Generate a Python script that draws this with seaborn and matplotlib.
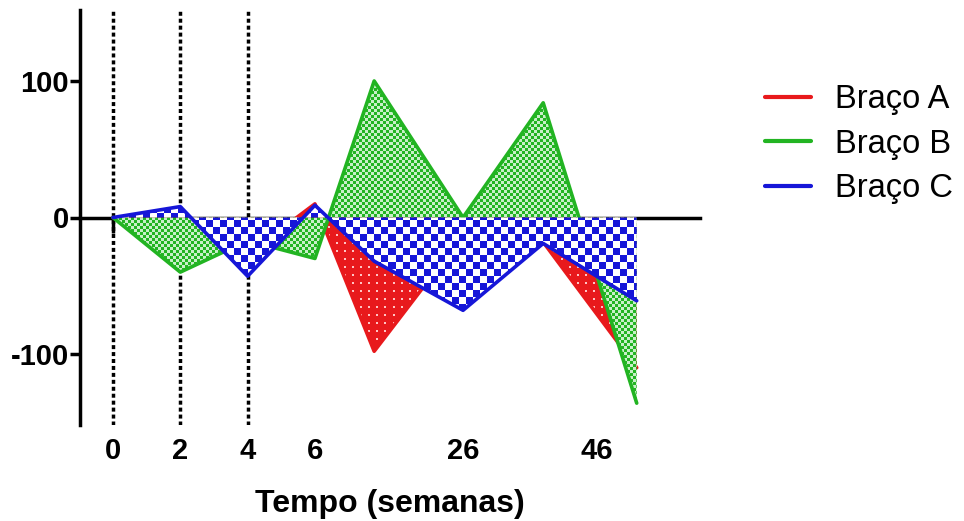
import numpy as np
import pandas as pd
import matplotlib
matplotlib.use("Agg")
import matplotlib.pyplot as plt
from matplotlib.colors import to_rgba
from matplotlib.lines import Line2D
import seaborn as sns

# Dados (semanas de seguimento e variação por braço)
semanas = [0, 2, 4, 6, 14, 26, 38, 52]
braco_a = [0, -20, -27, 10, -98, -13, -18, -110]
braco_b = [0, -40, -17, -30, 100, 0, 84, -136]
braco_c = [0, 8, -43, 9, -32, -68, -19, -61]
nomes = ["Braço A", "Braço B", "Braço C"]
cores = ["#e8191c", "#22b422", "#1616d8"]
xticks = [0, 2, 4, 6, 26, 46]
yticks = [-100, 0, 100]
marcos = [0, 2, 4]  # linhas de referência pontilhadas

sns.set_style("white")
plt.rcParams["font.family"] = ["Liberation Sans", "DejaVu Sans"]
plt.rcParams["text.color"] = "black"
plt.rcParams["axes.labelcolor"] = "black"

# Eixo de tempo segmentado: as primeiras 6 semanas ficam expandidas
W_KNOTS = np.array([0.0, 6.0, 26.0, 52.0])
P_KNOTS = np.array([0.0, 3.0, 5.2, 7.78])


def _piecewise(v, xs, ys):
    v = np.asarray(v, dtype=float)
    out = np.interp(v, xs, ys)
    s0 = (ys[1] - ys[0]) / (xs[1] - xs[0])
    s1 = (ys[-1] - ys[-2]) / (xs[-1] - xs[-2])
    out = np.where(v < xs[0], ys[0] + (v - xs[0]) * s0, out)
    out = np.where(v > xs[-1], ys[-1] + (v - xs[-1]) * s1, out)
    return out


def fwd(v):
    return _piecewise(v, W_KNOTS, P_KNOTS)


def inv(v):
    return _piecewise(v, P_KNOTS, W_KNOTS)


fig = plt.figure(figsize=(9.64, 5.21), dpi=100)
ax = fig.add_axes([80 / 964, 96 / 521, 620 / 964, 415 / 521])
ax.set_xscale("function", functions=(fwd, inv))

# Texturas de preenchimento em pixels da área do gráfico
bbox = ax.get_window_extent()
H, W = int(round(bbox.height)), int(round(bbox.width))
yy, xx = np.mgrid[0:H, 0:W]


def xadrez(tam, cor, claro="white"):
    img = np.empty((H, W, 4))
    img[:] = to_rgba(cor)
    img[((xx // tam + yy // tam) % 2) == 1] = to_rgba(claro)
    return img


def pontos(passo, cor, claro):
    img = np.empty((H, W, 4))
    img[:] = to_rgba(cor)
    mask = ((yy % passo) < 2) & ((xx % passo) < 2)
    img[mask] = to_rgba(claro)
    return img


texturas = [pontos(8, cores[0], "#ffc4c4"),
            xadrez(3, cores[1], "#c8efc8"),
            xadrez(7, cores[2])]

df = pd.DataFrame({"Semana": semanas, "Braço A": braco_a,
                   "Braço B": braco_b, "Braço C": braco_c})

for i, (nome, cor, tex) in enumerate(zip(nomes, cores, texturas)):
    z = 3 + i
    poly = ax.fill_between(df["Semana"], df[nome], 0, facecolor="none",
                           edgecolor="none", zorder=z)
    im = ax.imshow(tex, extent=(0, 1, 0, 1), transform=ax.transAxes,
                   interpolation="nearest", aspect="auto", zorder=z)
    im.set_clip_path(poly.get_paths()[0], transform=ax.transData)
    sns.lineplot(data=df, x="Semana", y=nome, color=cor, lw=2.6,
                 zorder=z + 0.5, ax=ax, legend=False)

for m in marcos:
    ax.axvline(m, color="black", lw=2.5, ls=(0, (1.15, 0.85)), zorder=1)

ax.set_xlim(inv(-0.49), inv(8.72))
ax.set_ylim(-152, 152)

for s in ["top", "right"]:
    ax.spines[s].set_visible(False)
ax.spines["bottom"].set_position(("data", 0))
for s in ["bottom", "left"]:
    ax.spines[s].set_color("black")
    ax.spines[s].set_linewidth(2.5)

ax.set_xticks(xticks)
ax.set_xticklabels([str(t) for t in xticks])
ax.set_yticks(yticks)
ax.set_yticklabels([str(t) for t in yticks])
ax.tick_params(axis="x", bottom=True, direction="out", length=11, width=2.5,
               pad=147, labelsize=21, colors="black")
ax.tick_params(axis="y", left=True, direction="out", length=7, width=2.5,
               pad=1, labelsize=21, colors="black")
for lab in ax.get_xticklabels() + ax.get_yticklabels():
    lab.set_fontweight("bold")

ax.set_xlabel("Tempo (semanas)", fontsize=23, fontweight="bold", labelpad=17)
ax.set_ylabel("")

handles = [Line2D([], [], color=c, lw=3) for c in cores]
leg = ax.legend(handles, nomes, loc="upper left",
                bbox_to_anchor=(765 / 964, 1 - 84 / 521),
                bbox_transform=fig.transFigure, frameon=False, fontsize=23.5,
                handlelength=1.4, handletextpad=0.75, labelspacing=0.42,
                borderpad=0, borderaxespad=0)
for t in leg.get_texts():
    t.set_color("black")

fig.savefig("out.png", dpi=100)
